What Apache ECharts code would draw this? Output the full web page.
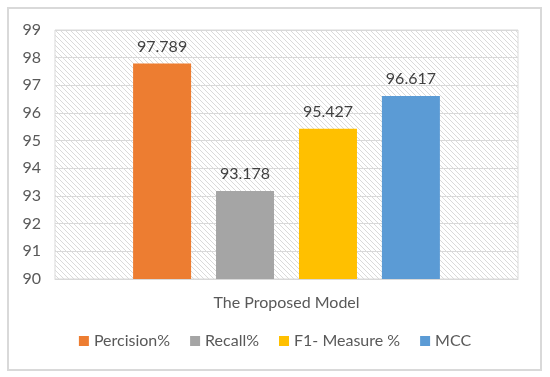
<!DOCTYPE html>
<html>
<head>
<meta charset="utf-8">
<script src="https://cdn.jsdelivr.net/npm/echarts@6/dist/echarts.min.js"></script>
<style>
html,body{margin:0;padding:0;background:#fff;}
#chart{width:550px;height:377px;}
</style>
</head>
<body>
<div id="chart"></div>
<script>
const categories = ['The Proposed Model'];
const seriesNames = ['Percision%', 'Recall%', 'F1- Measure %', 'MCC'];
const seriesValues = [[97.789], [93.178], [95.427], [96.617]];
const seriesColors = ['#ED7D31', '#A5A5A5', '#FFC000', '#5B9BD5'];
const yTicks = [90, 91, 92, 93, 94, 95, 96, 97, 98, 99];

// hatch pattern
const pc = document.createElement('canvas');
pc.width = 5; pc.height = 5;
const ctx = pc.getContext('2d');
ctx.fillStyle = '#ffffff';
ctx.fillRect(0, 0, 5, 5);
ctx.strokeStyle = '#dadada';
ctx.lineWidth = 1;
ctx.beginPath();
ctx.moveTo(-1, -1); ctx.lineTo(6, 6);
ctx.moveTo(-4, 1); ctx.lineTo(4, 9);
ctx.moveTo(1, -4); ctx.lineTo(9, 4);
ctx.stroke();

const font = 'Lato, "Open Sans", sans-serif';
const chart = echarts.init(document.getElementById('chart'), null, {renderer: 'canvas'});
chart.setOption({
  animation: false,
  backgroundColor: '#ffffff',
  textStyle: {fontFamily: font},
  graphic: [{
    type: 'rect',
    shape: {x: 8, y: 8, width: 533, height: 362},
    style: {fill: 'none', stroke: '#D9D9D9', lineWidth: 2},
    silent: true, z: -1
  }],
  grid: {
    left: 55, right: 32, top: 30, bottom: 98,
    show: true,
    backgroundColor: {image: pc, repeat: 'repeat'},
    borderColor: '#D9D9D9', borderWidth: 1
  },
  legend: {
    data: seriesNames,
    bottom: 23,
    left: 'center',
    itemWidth: 10, itemHeight: 10,
    itemGap: 20,
    icon: 'rect',
    textStyle: {fontFamily: font, fontSize: 16, color: '#595959'}
  },
  xAxis: {
    type: 'category',
    data: categories,
    axisTick: {show: false},
    axisLine: {lineStyle: {color: '#D9D9D9'}},
    axisLabel: {fontFamily: font, fontSize: 16, color: '#595959', margin: 16}
  },
  yAxis: {
    type: 'value',
    min: yTicks[0], max: yTicks[yTicks.length - 1], interval: 1,
    axisLine: {show: false},
    axisTick: {show: false},
    splitLine: {lineStyle: {color: '#D9D9D9', width: 1}},
    axisLabel: {fontFamily: font, fontSize: 16, color: '#595959', margin: 14}
  },
  series: seriesNames.map((n, i) => ({
    name: n,
    type: 'bar',
    data: seriesValues[i],
    barWidth: 58,
    barGap: '43%',
    itemStyle: {color: seriesColors[i]},
    label: {
      show: true, position: 'top', distance: 9,
      fontFamily: font, fontSize: 16, color: '#404040',
      formatter: p => p.value.toFixed(3)
    }
  }))
});
</script>
</body>
</html>
